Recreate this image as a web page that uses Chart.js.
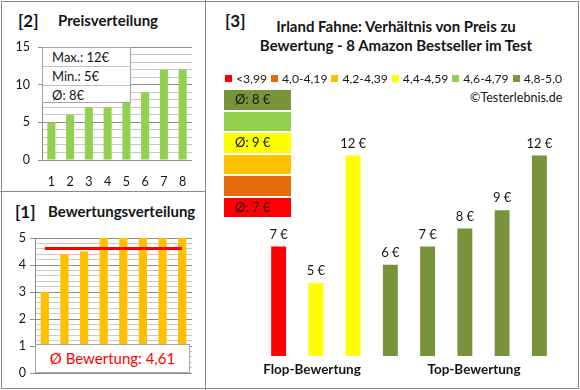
<!DOCTYPE html>
<html>
<head>
<meta charset="utf-8">
<script src="https://cdn.jsdelivr.net/npm/chart.js@4.4.1/dist/chart.umd.min.js"></script>
<style>
body { margin: 0; background: #fff; font-family: Lato, 'Open Sans', sans-serif; color: #151515; }
#page { position: relative; width: 580px; height: 390px; overflow: hidden; background: #fff; }
.abs { position: absolute; }
.frame { left: 1px; top: 1px; width: 578px; height: 388px; border: 1px solid #8a8a8a; box-sizing: border-box; z-index: 20; pointer-events: none; }
.vline { left: 205px; top: 0; width: 1px; height: 390px; background: #8a8a8a; z-index: 20; }
.hline { left: 0; top: 191px; width: 205px; height: 1px; background: #8a8a8a; z-index: 20; }
.num { font-weight: 700; font-size: 17px; }
.ttl { font-weight: 700; font-size: 15px; }
.statbox { left: 42px; top: 47px; width: 89px; height: 56px; background: #fff; border: 1px solid #a6a6a6; box-sizing: border-box; z-index: 5; font-size: 13px; }
.statbox div { height: 18px; line-height: 18px; padding-left: 9px; border-bottom: 1px solid #c0c0c0; }
.statbox div:last-child { border-bottom: none; }
.avgbox { left: 35px; top: 344px; width: 155px; height: 29px; background: #fff; border: 1px solid #a6a6a6; box-sizing: border-box; z-index: 5; color: #ff0000; font-size: 15px; text-align: center; line-height: 27px; }
.title3 { left: 236px; top: 17px; width: 320px; text-align: center; font-weight: 700; font-size: 15px; line-height: 19px; }
#legend { left: 225px; top: 71px; display: flex; font-size: 12.2px; z-index: 5; }
#legend .item { display: flex; align-items: center; margin-right: 4px; }
#legend .sq { width: 7px; height: 7px; margin-right: 4px; }
.copy { left: 470px; top: 90px; font-size: 12.5px; }
#bins { left: 224px; top: 90px; width: 67px; display: flex; flex-direction: column; z-index: 5; }
#bins div { height: 19.5px; margin-bottom: 2px; font-size: 13px; line-height: 19.5px; padding-left: 11px; }
.grp { top: 361px; width: 130px; text-align: center; font-weight: 700; font-size: 13.5px; }
</style>
</head>
<body>
<div id="page">
  <div class="abs frame"></div>
  <div class="abs vline"></div>
  <div class="abs hline"></div>

  <!-- Panel [2] -->
  <div class="abs num" style="left:18px;top:10px;">[2]</div>
  <div class="abs ttl" style="left:58px;top:11px;">Preisverteilung</div>
  <div class="abs" style="left:0;top:0;width:205px;height:191px;"><canvas id="priceChart"></canvas></div>
  <div class="abs statbox" id="statbox"></div>

  <!-- Panel [1] -->
  <div class="abs num" style="left:15px;top:201px;">[1]</div>
  <div class="abs ttl" style="left:48px;top:202px;">Bewertungsverteilung</div>
  <div class="abs" style="left:0;top:192px;width:205px;height:198px;"><canvas id="ratingChart"></canvas></div>
  <div class="abs avgbox" id="avgbox"></div>

  <!-- Panel [3] -->
  <div class="abs num" style="left:225px;top:10px;">[3]</div>
  <div class="abs title3">Irland Fahne: Verhältnis von Preis zu<br>Bewertung - 8 Amazon Bestseller im Test</div>
  <div class="abs" id="legend"></div>
  <div class="abs copy">©Testerlebnis.de</div>
  <div class="abs" id="bins"></div>
  <div class="abs" style="left:206px;top:2px;width:372px;height:386px;"><canvas id="groupChart"></canvas></div>
  <div class="abs grp" style="left:247px;">Flop-Bewertung</div>
  <div class="abs grp" style="left:409px;">Top-Bewertung</div>
</div>

<script>
// --- Data ---
const ranks = ['1', '2', '3', '4', '5', '6', '7', '8'];
const sortedPrices = [5, 6, 7, 7, 8, 9, 12, 12];
const sortedRatings = [3.0, 4.4, 4.5, 5.0, 5.0, 5.0, 5.0, 5.0];
const groupLabels = ['Flop 1', 'Flop 2', 'Flop 3', 'Top 1', 'Top 2', 'Top 3', 'Top 4', 'Top 5'];
const groupPrices = [7, 5, 12, 6, 7, 8, 9, 12];
const groupRatings = [3.0, 4.4, 4.5, 5.0, 5.0, 5.0, 5.0, 5.0];
const binLabels = ['<3,99', '4,0-4,19', '4,2-4,39', '4,4-4,59', '4,6-4,79', '4,8-5,0'];
const binFrom = [0, 4.0, 4.2, 4.4, 4.6, 4.8];

// --- Styles ---
const binColors = ['#ff0000', '#e46c0a', '#ffc000', '#ffff00', '#92d050', '#77933c'];
const gridMajor = '#8c8c8c';
const gridMinor = '#c8c8c8';

Chart.defaults.font.family = 'Lato, "Open Sans", sans-serif';
Chart.defaults.font.size = 12.5;
Chart.defaults.color = '#151515';
Chart.defaults.animation = false;

function binIndex(r) {
    let idx = 0;
    binFrom.forEach((b, i) => { if (r >= b) idx = i; });
    return idx;
}
const isInt = v => Math.abs(v - Math.round(v)) < 1e-6;

// --- Stat boxes ---
const maxPrice = Math.max(...sortedPrices);
const minPrice = Math.min(...sortedPrices);
const avgPrice = sortedPrices.reduce((a, b) => a + b, 0) / sortedPrices.length;
document.getElementById('statbox').innerHTML =
    `<div>Max.: ${maxPrice}€</div><div>Min.: ${minPrice}€</div><div>Ø: ${Math.round(avgPrice)}€</div>`;

const avgRating = sortedRatings.reduce((a, b) => a + b, 0) / sortedRatings.length;
document.getElementById('avgbox').innerText = `Ø Bewertung: ${avgRating.toFixed(2).replace('.', ',')}`;

// --- Legend + bin averages ---
document.getElementById('legend').innerHTML = binLabels.map((l, i) =>
    `<div class="item"><span class="sq" style="background:${binColors[i]}"></span>${l}</div>`).join('');

const binsHtml = [];
for (let i = binLabels.length - 1; i >= 0; i--) {
    const p = groupPrices.filter((_, k) => binIndex(groupRatings[k]) === i);
    const txt = p.length ? `Ø: ${Math.round(p.reduce((a, b) => a + b, 0) / p.length)} €` : '';
    binsHtml.push(`<div style="background:${binColors[i]}">${txt}</div>`);
}
document.getElementById('bins').innerHTML = binsHtml.join('');

// --- Chart [2] Preisverteilung ---
new Chart(document.getElementById('priceChart'), {
    type: 'bar',
    data: {
        labels: ranks,
        datasets: [{ data: sortedPrices, backgroundColor: '#92d050', barPercentage: 0.43, categoryPercentage: 1 }]
    },
    options: {
        responsive: true,
        maintainAspectRatio: false,
        layout: { padding: { left: 12, right: 13, top: 47, bottom: 0 } },
        plugins: { legend: { display: false }, tooltip: { enabled: false } },
        scales: {
            x: {
                grid: { display: false, drawTicks: false },
                border: { display: false },
                ticks: { padding: 14 },
                afterFit: s => { s.height = 31; }
            },
            y: {
                min: 0, max: 15,
                ticks: { stepSize: 1, autoSkip: false, padding: 8, callback: v => (v % 5 === 0 ? v : '') },
                grid: {
                    color: c => (c.tick && c.tick.value % 5 === 0 ? gridMajor : gridMinor),
                    tickColor: c => (c.tick && c.tick.value % 5 === 0 ? gridMajor : 'rgba(0,0,0,0)'),
                    tickLength: 4
                },
                border: { color: gridMajor },
                afterFit: s => { s.width = 30; }
            }
        }
    }
});

// --- Chart [1] Bewertungsverteilung ---
new Chart(document.getElementById('ratingChart'), {
    type: 'bar',
    data: {
        labels: ranks,
        datasets: [
            {
                type: 'line', data: sortedRatings.map(() => avgRating), borderColor: '#ff0000',
                borderWidth: 3, pointRadius: 0, order: 0
            },
            { data: sortedRatings, backgroundColor: '#ffc000', barPercentage: 0.42, categoryPercentage: 1, order: 1 }
        ]
    },
    options: {
        responsive: true,
        maintainAspectRatio: false,
        layout: { padding: { left: 5, right: 13, top: 46, bottom: 17 } },
        plugins: { legend: { display: false }, tooltip: { enabled: false } },
        scales: {
            x: { display: false },
            y: {
                min: 0, max: 5,
                ticks: { stepSize: 0.2, autoSkip: false, padding: 4, callback: v => (isInt(v) ? Math.round(v) : '') },
                grid: {
                    color: c => (c.tick && isInt(c.tick.value) ? gridMajor : gridMinor),
                    tickColor: c => (c.tick && isInt(c.tick.value) ? gridMajor : 'rgba(0,0,0,0)'),
                    tickLength: 5
                },
                border: { color: gridMajor },
                afterFit: s => { s.width = 30; }
            }
        }
    }
});

// --- Chart [3] Preis zu Bewertung ---
const valueLabels = {
    id: 'valueLabels',
    afterDatasetsDraw(chart) {
        const ctx = chart.ctx;
        const meta = chart.getDatasetMeta(0);
        ctx.save();
        ctx.font = '13px Lato, "Open Sans", sans-serif';
        ctx.fillStyle = '#151515';
        ctx.textAlign = 'center';
        ctx.textBaseline = 'middle';
        meta.data.forEach((bar, i) => {
            ctx.fillText(`${chart.data.datasets[0].data[i]} €`, bar.x, bar.y - 12);
        });
        ctx.restore();
    }
};

new Chart(document.getElementById('groupChart'), {
    type: 'bar',
    data: {
        labels: groupLabels,
        datasets: [{
            data: groupPrices,
            backgroundColor: groupRatings.map(r => binColors[binIndex(r)]),
            barPercentage: 0.4, categoryPercentage: 1
        }]
    },
    options: {
        responsive: true,
        maintainAspectRatio: false,
        layout: { padding: { left: 54, right: 20, top: 117, bottom: 32 } },
        plugins: { legend: { display: false }, tooltip: { enabled: false } },
        scales: {
            x: { display: false },
            y: { display: false, min: 1, max: 14 }
        }
    },
    plugins: [valueLabels]
});
</script>
</body>
</html>
